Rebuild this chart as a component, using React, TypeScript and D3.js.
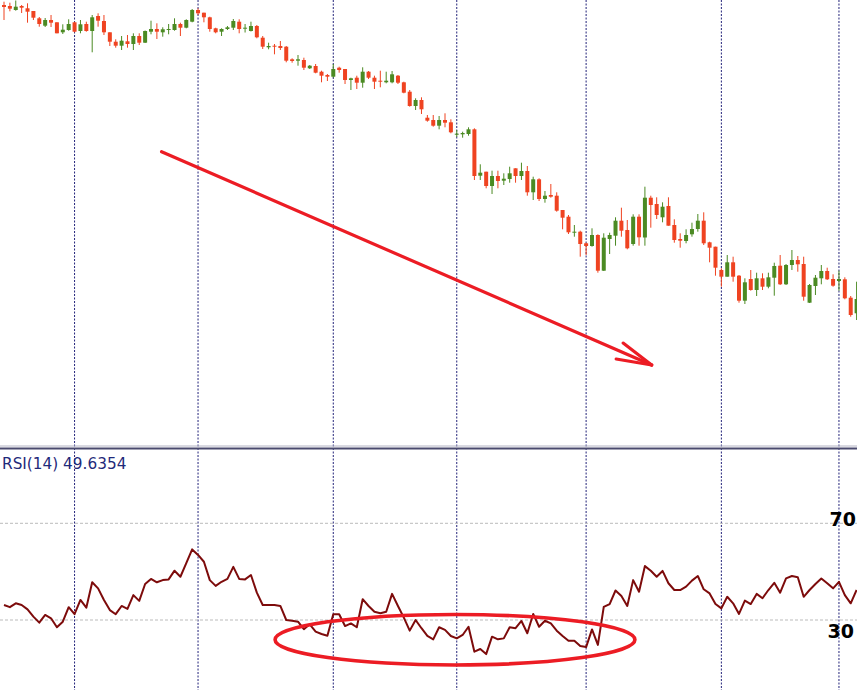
import React from "react";
import * as d3 from "d3";

// ---- Data (price in points, RSI values) ----
const opens = [995, 994, 990, 994, 991.7, 989, 981.7, 974.3, 980, 977.7,
  967.7, 970, 977.7, 969, 976, 969, 984, 979, 967.7, 958.3,
  954.3, 958.7, 956, 964, 957.3, 968.3, 971, 967.7, 970, 970,
  976, 972.3, 978.3, 990, 987.3, 982.7, 971.7, 968.3, 971, 972.3,
  978.3, 971.3, 969, 974, 962.3, 952.7, 954.3, 954, 953.3, 940.7,
  939.3, 940, 931.7, 934, 928.3, 925, 923.3, 932.3, 931, 920,
  922.3, 917.3, 928.3, 922.3, 919.3, 917.7, 917.7, 924.3, 917.7, 908.3,
  894, 900, 882.3, 880, 874.3, 880, 877.7, 865.7, 865.7, 866,
  870.7, 824.3, 828.3, 814, 824, 819.3, 821, 831.7, 824, 829,
  807.7, 820.7, 801, 805, 804.3, 790, 783.3, 767.3, 768.3, 756.7,
  754, 765, 729.3, 761, 764.3, 779.3, 770, 756, 783.3, 762.5,
  802.3, 796, 782.7, 794, 775, 761, 759, 765.7, 771, 779.3,
  757.7, 753.3, 730, 723.3, 737.7, 724.3, 699.3, 721, 710, 721.7,
  713.3, 722.3, 734.3, 715.7, 735, 740, 736, 697.3, 714, 721.7,
  729, 721, 719, 720.7, 702.3, 686.7];

const closes = [993, 991.3, 993.3, 992.3, 988.3, 982.3, 976, 980, 977.3, 966.7,
  970.3, 976, 968.3, 975.7, 969, 982.7, 979.3, 967.7, 958.3, 954.3,
  959.3, 956, 964, 957.3, 969, 971, 968.3, 970.7, 971, 976,
  972.3, 980, 990, 986.7, 982.7, 971, 967.7, 971, 972.7, 979,
  971, 972.3, 974, 962.7, 953.3, 954, 953.3, 952, 939.3, 939,
  940.7, 932.3, 934.3, 927.3, 924.3, 923.3, 931, 930, 920, 921.7,
  917.3, 928.3, 922.3, 918.3, 918.3, 919.3, 925.7, 917.3, 907.3, 894,
  900, 890.7, 879.3, 874.3, 880, 877.3, 867.7, 866.3, 867, 870.7,
  824, 827.3, 814, 824, 819, 821.3, 826.7, 824, 829, 807.7,
  820.7, 801, 804.3, 803.3, 789.3, 782.3, 767.7, 768.3, 756, 754,
  765, 729.3, 762.3, 765, 779.3, 769.3, 751.7, 783.3, 762.7, 802.3,
  795, 785, 793.3, 774.3, 760, 759.3, 765, 771, 779.3, 756.7,
  752.3, 732.3, 723.3, 737.7, 723.3, 699.3, 717.7, 710, 721.7, 713.3,
  722.7, 734, 715.7, 735, 740, 735.7, 703.3, 715, 722.3, 729,
  720.7, 714.3, 721, 701.7, 685, 701];

const highs = [998.3, 997.3, 999.5, 995, 996.7, 989, 983, 982, 985, 977.7,
  975.7, 980.7, 978.3, 980, 978.3, 985, 986.7, 985, 967.7, 960.7,
  964, 965, 966.7, 966.7, 969.5, 979.3, 976.7, 972.7, 976, 981.7,
  977.3, 980.7, 991, 991.7, 987.3, 983.3, 972.3, 971.7, 974, 981,
  980.7, 976, 978.3, 975, 964, 957.3, 956, 959, 954, 941.7,
  945, 942.3, 935, 936, 929.3, 926, 936, 933.3, 931, 922.3,
  924.3, 932.7, 929, 924.3, 929.3, 928.3, 929, 925, 918.3, 910,
  901.7, 902.7, 885, 885, 884, 886.7, 880.7, 870, 868.3, 872.7,
  871.7, 835.7, 828.3, 829.3, 829.3, 826.7, 833.3, 831.7, 837.3, 834,
  823.3, 821.7, 809, 816, 807.7, 790, 785, 775, 769.3, 757.3,
  771.7, 765.7, 766.7, 767.3, 782.7, 792.3, 780, 785.7, 785.7, 813.3,
  804.3, 802.7, 797.7, 802.7, 780.7, 766.7, 770.7, 777.3, 786, 787.7,
  758.3, 753.3, 731.7, 745, 743.3, 725, 721.7, 730, 727.3, 726.7,
  727.3, 737.3, 745, 736, 750, 744, 743.3, 716, 725, 735,
  732.3, 725.7, 729.3, 722.7, 704, 718.3];

const lows = [980, 988.7, 989.3, 987, 977.3, 980, 973.3, 973, 973, 966.7,
  966, 969.3, 967.7, 966.7, 968.3, 947.7, 973.3, 965, 954, 952.3,
  950, 952.3, 950, 955, 957, 965.7, 961, 963.3, 965.7, 969.3,
  964, 971.7, 977.7, 985, 977.7, 968.3, 966.7, 964, 970, 970,
  966.7, 967.5, 968.5, 961.7, 951, 950.7, 945.7, 950, 937.7, 937.3,
  934.3, 930, 931, 926.7, 917.7, 919, 922.3, 927.3, 916, 910,
  911, 912.3, 921, 911, 912.7, 916.7, 916.7, 916, 906.7, 893.3,
  890, 886, 878.3, 873.3, 870.7, 872.7, 866.7, 863, 862.3, 864.3,
  820, 820, 811.7, 806, 811.7, 815, 817.3, 817.3, 820, 804.3,
  800, 799, 797.3, 802.3, 788.3, 770.7, 766, 763.3, 743.3, 745,
  753.3, 727.3, 729, 746, 754.3, 763.3, 750.7, 754.3, 754.3, 754.3,
  772.3, 781, 777.7, 774.3, 757.3, 752.3, 756.7, 763.3, 768.3, 755,
  737.7, 724.3, 713.3, 723.3, 718.3, 697.3, 696, 709.3, 704, 710,
  711.7, 704.3, 715, 715, 730, 728.3, 699.3, 697, 705, 715.7,
  720, 713.3, 709.3, 700.7, 683.3, 680];

const rsi = [36.2, 35.3, 36.9, 36.2, 34.4, 31.4, 28.9, 32.1, 30.7, 27.0,
  29.3, 35.3, 32.4, 38.3, 35.1, 45.6, 43.1, 38.3, 34.1, 32.4,
  35.8, 34.6, 40.3, 37.9, 44.9, 47.0, 45.6, 46.5, 46.8, 50.4,
  47.9, 53.5, 59.2, 56.9, 54.1, 46.5, 44.1, 45.8, 47.0, 52.0,
  47.0, 46.8, 48.6, 41.3, 36.2, 36.2, 36.2, 35.8, 30.0, 29.7,
  29.3, 26.2, 28.2, 25.2, 24.2, 23.5, 32.4, 32.4, 27.5, 28.6,
  27.0, 38.6, 35.8, 33.4, 32.8, 33.4, 40.8, 35.8, 31.0, 25.6,
  30.0, 26.6, 23.4, 22.0, 27.0, 25.9, 23.4, 22.4, 23.8, 27.2,
  16.9, 18.0, 15.9, 23.1, 22.0, 22.4, 27.0, 26.6, 29.6, 24.5,
  32.5, 27.2, 29.7, 28.6, 25.6, 23.4, 21.4, 21.4, 19.2, 18.8,
  26.1, 19.7, 35.4, 36.6, 42.2, 39.9, 35.8, 46.5, 41.7, 52.3,
  50.4, 47.9, 50.3, 45.2, 42.4, 42.4, 43.8, 46.3, 48.2, 42.7,
  41.0, 36.6, 34.8, 39.6, 36.9, 32.5, 38.0, 36.6, 40.8, 39.0,
  42.4, 45.4, 41.3, 47.2, 48.2, 47.7, 39.6, 42.4, 44.9, 47.2,
  45.2, 43.1, 45.8, 40.3, 36.9, 42.4];

const gridBars = [12, 33, 56, 77, 99, 122, 142];
const rsiLevels = [70, 30];
const rsiLabel = "RSI(14) 49.6354";

// annotation in data space: arrow (bar index, price) and ellipse (bar index, rsi)
const arrowFrom = [26.8, 848.3];
const arrowTo = [110.15, 635];
const ellipseCenter = [76.7, 21.85];
const ellipseRadii = [30.6, 10.45];

const W = 857;
const H = 690;

export default function App() {
  const n = opens.length;
  const x = d3.scaleLinear().domain([0, n - 1]).range([4, 4 + 5.88 * (n - 1)]);
  const y = d3.scaleLinear().domain([1000, 555]).range([0, 445]);
  const yr = d3.scaleLinear().domain([30, 70]).range([620, 523.3]);
  const step = x(1) - x(0);
  const bw = step * 0.68;

  const red = "#ef4321";
  const green = "#4b8a23";

  const rsiLine = d3
    .line<number>()
    .x((_, i) => x(i))
    .y((d) => yr(d));

  // arrow geometry
  const ax1 = x(arrowFrom[0]), ay1 = y(arrowFrom[1]);
  const ax2 = x(arrowTo[0]), ay2 = y(arrowTo[1]);
  const ang = Math.atan2(ay1 - ay2, ax1 - ax2);
  const headLen = 36;
  const spread = (14 * Math.PI) / 180;
  const h1 = [ax2 + headLen * Math.cos(ang + spread), ay2 + headLen * Math.sin(ang + spread)];
  const h2 = [ax2 + headLen * Math.cos(ang - spread), ay2 + headLen * Math.sin(ang - spread)];

  const ecx = x(ellipseCenter[0]);
  const ecy = yr(ellipseCenter[1]);
  const erx = x(ellipseRadii[0]) - x(0);
  const ery = yr(30) - yr(30 + ellipseRadii[1]);

  return (
    <div style={{ position: "absolute", left: 0, top: 0 }}>
      <svg width={W} height={H} style={{ display: "block", background: "#fff" }}>
        <rect x={0} y={0} width={W} height={H} fill="#fff" />
        {/* vertical grid */}
        {gridBars.map((g) => (
          <line key={g} x1={x(g)} x2={x(g)} y1={0} y2={H} stroke="#23237a" strokeWidth={1} strokeDasharray="2 1.5" />
        ))}
        {/* separator */}
        <line x1={0} x2={W} y1={446} y2={446} stroke="#b4b4c4" strokeWidth={1} />
        <line x1={0} x2={W} y1={448.5} y2={448.5} stroke="#4a4a6e" strokeWidth={2} />

        {/* candles */}
        {opens.map((o, i) => {
          const c = closes[i];
          const up = c >= o;
          const col = up ? green : red;
          const top = y(Math.max(o, c));
          const bot = y(Math.min(o, c));
          return (
            <g key={i}>
              <line x1={x(i)} x2={x(i)} y1={y(highs[i])} y2={y(lows[i])} stroke={col} strokeWidth={1} />
              <rect x={x(i) - bw / 2} y={top} width={bw} height={Math.max(1, bot - top)} fill={col} />
            </g>
          );
        })}

        {/* arrow */}
        <g stroke="#ec1c24" strokeWidth={3.2} strokeLinecap="round" fill="none">
          <line x1={ax1} y1={ay1} x2={ax2} y2={ay2} />
          <line x1={h1[0]} y1={h1[1]} x2={ax2} y2={ay2} />
          <line x1={h2[0]} y1={h2[1]} x2={ax2} y2={ay2} />
        </g>

        {/* RSI panel */}
        {rsiLevels.map((lv) => (
          <line key={lv} x1={0} x2={W} y1={yr(lv)} y2={yr(lv)} stroke="#bbbbbb" strokeWidth={1} strokeDasharray="3 2" />
        ))}
        <text x={2} y={469} fontFamily="DejaVu Sans" fontSize={15.3} fill="#1f2a7a">
          {rsiLabel}
        </text>
        <text x={856} y={yr(70) + 3} textAnchor="end" fontFamily="DejaVu Sans" fontWeight="bold" fontSize={19} fill="#000">
          {rsiLevels[0]}
        </text>
        <text x={854} y={yr(30) + 18} textAnchor="end" fontFamily="DejaVu Sans" fontWeight="bold" fontSize={19} fill="#000">
          {rsiLevels[1]}
        </text>
        <path d={rsiLine(rsi) || ""} fill="none" stroke="#7d0b0b" strokeWidth={2} strokeLinejoin="round" />

        {/* ellipse annotation */}
        <ellipse cx={ecx} cy={ecy} rx={erx} ry={ery} fill="none" stroke="#ec1c24" strokeWidth={3.6} />
      </svg>
    </div>
  );
}
